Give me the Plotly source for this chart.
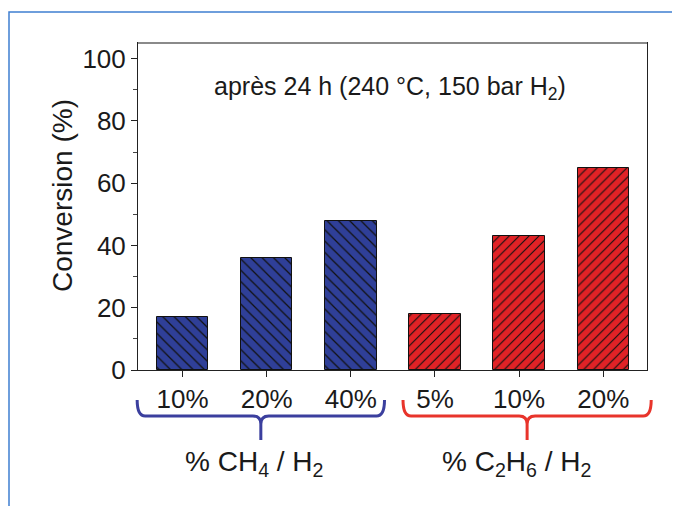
import plotly.graph_objects as go

# ---- data ----
tick_labels = ["10%", "20%", "40%", "5%", "10%", "20%"]
ch4_pos = [0, 1, 2]
ch4_vals = [17, 36, 48]
c2h6_pos = [3, 4, 5]
c2h6_vals = [18, 43, 65]
group_labels = ["% CH<sub>4</sub> / H<sub>2</sub>", "% C<sub>2</sub>H<sub>6</sub> / H<sub>2</sub>"]
group_spans = [(-0.54, 2.40), (2.62, 5.57)]
note = "après 24 h (240 °C, 150 bar H<sub>2</sub>)"

# page body has an 8px margin: figure drawn at (8, 8)
OFF = 8
W, H = 672, 498
L, R, T, B = 130, 33, 35, 136
XR = [-0.53, 5.52]
YR = [0, 105]
FONT = "Arial, Liberation Sans, sans-serif"
BLUE = "#2f3f98"
RED = "#e12226"
INK = "#1a1a1a"

pw = W - L - R
ph = H - T - B

def px_x(px):  # screen pixel -> paper
    return (px - OFF - L) / pw

def px_y(py):
    return (H - B - (py - OFF)) / ph

def data_to_px_x(v):
    return OFF + L + (v - XR[0]) / (XR[1] - XR[0]) * pw

fig = go.Figure()
fig.add_trace(go.Bar(
    x=ch4_pos, y=ch4_vals, width=0.61,
    marker=dict(color=BLUE, line=dict(color="#111", width=1),
                pattern=dict(shape="\\", size=8, solidity=0.16,
                             fgcolor="#111", bgcolor=BLUE, fillmode="replace")),
    showlegend=False))
fig.add_trace(go.Bar(
    x=c2h6_pos, y=c2h6_vals, width=0.61,
    marker=dict(color=RED, line=dict(color="#111", width=1),
                pattern=dict(shape="/", size=7, solidity=0.16,
                             fgcolor="#111", bgcolor=RED, fillmode="replace")),
    showlegend=False))

shapes = []
# outer blue frame
shapes.append(dict(type="rect", xref="paper", yref="paper",
                   x0=px_x(9), y0=px_y(H + 40), x1=px_x(W + 40), y1=px_y(12),
                   line=dict(color="#3f7fd1", width=1.5), fillcolor="rgba(0,0,0,0)"))
# gray top border of the plot
shapes.append(dict(type="line", xref="paper", yref="paper",
                   x0=0, x1=1, y0=1, y1=1, line=dict(color="#8a8a8a", width=2)))

# braces
brace_colors = ["#3b3f9e", "#e8342b"]
ytop, ymid, ybot = 400, 416, 440
r = 8
for (a, b), col in zip(group_spans, brace_colors):
    x0 = data_to_px_x(a)
    x1 = data_to_px_x(b)
    xc = (x0 + x1) / 2
    def P(x, y):
        return f"{px_x(x):.5f},{px_y(y):.5f}"
    path = (f"M {P(x0, ytop)} Q {P(x0, ymid)} {P(x0 + r, ymid)} "
            f"L {P(xc - r, ymid)} Q {P(xc, ymid)} {P(xc, ymid + r)} L {P(xc, ybot)} "
            f"M {P(xc, ymid + r)} Q {P(xc, ymid)} {P(xc + r, ymid)} "
            f"L {P(x1 - r, ymid)} Q {P(x1, ymid)} {P(x1, ytop)}")
    shapes.append(dict(type="path", xref="paper", yref="paper", path=path,
                       line=dict(color=col, width=3)))

annotations = []
for (a, b), lab, dx in zip(group_spans, group_labels, [-6, -11]):
    cx = (data_to_px_x(a) + data_to_px_x(b)) / 2 + dx
    annotations.append(dict(x=px_x(cx), y=px_y(463), xref="paper", yref="paper",
                            text=lab, showarrow=False, font=dict(family=FONT, size=28, color=INK),
                            xanchor="center", yanchor="middle"))
annotations.append(dict(x=px_x(390), y=px_y(88), xref="paper", yref="paper",
                        text=note, showarrow=False, font=dict(family=FONT, size=25, color=INK),
                        xanchor="center", yanchor="middle"))
annotations.append(dict(x=px_x(62), y=px_y(196), xref="paper", yref="paper",
                        text="Conversion (%)", textangle=-90, showarrow=False,
                        font=dict(family=FONT, size=28, color=INK),
                        xanchor="center", yanchor="middle"))

fig.update_layout(
    width=W, height=H,
    margin=dict(l=L, r=R, t=T, b=B),
    paper_bgcolor="white", plot_bgcolor="white",
    font=dict(family=FONT, color=INK),
    bargap=0, barmode="overlay",
    shapes=shapes, annotations=annotations,
    xaxis=dict(range=XR, tickvals=ch4_pos + c2h6_pos, ticktext=tick_labels,
               ticks="outside", ticklen=6, tickwidth=1, tickcolor="#222",
               showline=True, linecolor="#222", linewidth=1, mirror=True,
               showgrid=False, zeroline=False,
               tickfont=dict(family=FONT, size=26, color=INK)),
    yaxis=dict(range=YR, tickvals=[0, 20, 40, 60, 80, 100],
               ticks="outside", ticklen=6, tickwidth=1, tickcolor="#222",
               minor=dict(ticks="outside", ticklen=4, dtick=10, tickcolor="#444"),
               showline=True, linecolor="#222", linewidth=1, mirror=True,
               showgrid=False, zeroline=False,
               tickfont=dict(family=FONT, size=26, color=INK)),
)

fig.write_html("out.html")
